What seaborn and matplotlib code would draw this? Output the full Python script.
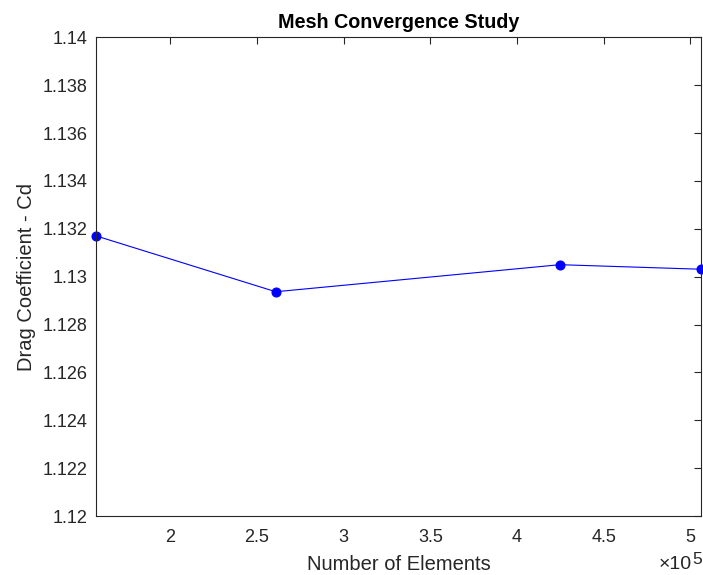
import matplotlib
matplotlib.use("Agg")
import matplotlib.pyplot as plt
import seaborn as sns
import pandas as pd
from matplotlib.ticker import FuncFormatter, MultipleLocator

num_elements = [157300, 260800, 424700, 506300]
drag_cd = [1.1317, 1.12937, 1.1305, 1.13031]
y_ticks = [1.12, 1.122, 1.124, 1.126, 1.128, 1.13, 1.132, 1.134, 1.136, 1.138, 1.14]

sns.set_theme(style="white")
plt.rcParams['font.family'] = ['Liberation Sans', 'DejaVu Sans']

df = pd.DataFrame({"Number of Elements": num_elements, "Cd": drag_cd})

fig = plt.figure(figsize=(7.03, 5.75), dpi=100)
ax = fig.add_axes([0.137, 0.1026, 0.8606, 0.8325])

sns.lineplot(data=df, x="Number of Elements", y="Cd", ax=ax, color=(0, 0, 1),
             marker="o", markersize=6.5, markeredgecolor=(0, 0, 1), linewidth=0.8,
             clip_on=False)

ax.set_xlim(num_elements[0], num_elements[-1])
ax.set_ylim(1.12, 1.14)
ax.set_yticks(y_ticks)
ax.yaxis.set_major_formatter(FuncFormatter(lambda v, p: f"{v:g}"))
ax.xaxis.set_major_locator(MultipleLocator(50000))
ax.xaxis.set_major_formatter(FuncFormatter(lambda v, p: f"{v/1e5:g}"))

dark = "#262626"
for s in ax.spines.values():
    s.set_visible(True)
    s.set_color(dark)
    s.set_linewidth(0.8)
ax.tick_params(axis="both", which="major", direction="in", length=5, width=0.8,
               colors=dark, labelsize=13, top=True, right=True)
ax.tick_params(axis="x", pad=9)
ax.tick_params(axis="y", pad=6)
for lab in ax.get_xticklabels() + ax.get_yticklabels():
    lab.set_color(dark)

ax.set_xlabel("Number of Elements", fontsize=14.5, color=dark, labelpad=7)
ax.set_ylabel("Drag Coefficient - Cd", fontsize=14.5, color=dark, labelpad=5)
ax.set_title("Mesh Convergence Study", fontsize=14.2, fontweight="bold", color="black", pad=7)

# x10^5 multiplier (MATLAB-style exponent label)
ax.text(0.9846, -0.1115, "\u00d710", transform=ax.transAxes,
        ha="right", va="baseline", fontsize=14, color=dark)
ax.text(0.9846, -0.1005, "5", transform=ax.transAxes,
        ha="left", va="baseline", fontsize=12.5, color=dark)

fig.savefig("out.png", dpi=100, facecolor="white")
